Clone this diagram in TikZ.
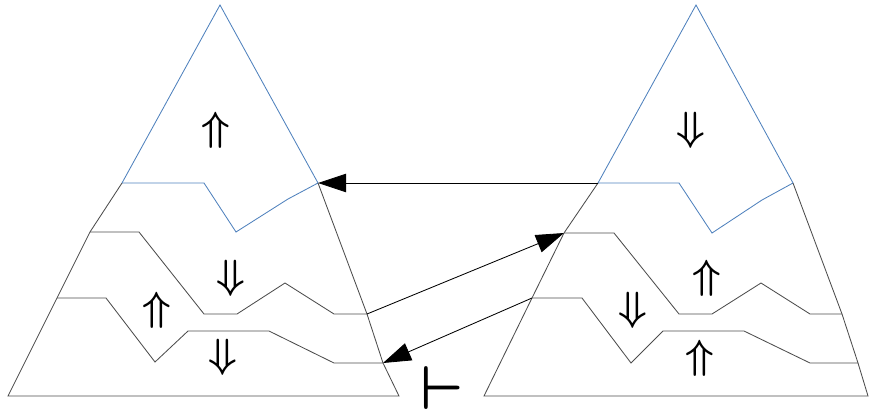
\documentclass[tikz,border=0pt]{standalone}
\usepackage{tikz}
\usetikzlibrary{arrows.meta, positioning, calc}
\usepackage{amsmath, amssymb, graphicx}

\definecolor{topblue}{RGB}{79,129,189}
\newcommand{\upsym}{\scalebox{2.9}{$\boldsymbol{\Uparrow}$}}
\newcommand{\downsym}{\scalebox{2.9}{$\boldsymbol{\Downarrow}$}}

\begin{document}
\begin{tikzpicture}[
    x=0.025cm, y=-0.025cm,
    layer/.style={draw=black!70, line width=0.6pt},
    top/.style={draw=topblue, line width=0.6pt},
    sym/.style={inner sep=0pt},
    link/.style={-{Triangle[length=7mm, width=4.6mm]}, line width=0.6pt}
]
    \useasboundingbox (0,0) rectangle (869,409);

    % Left pyramid (manual coordinates)
    \coordinate (LA) at (220,5);
    \coordinate (L1l) at (122,183);  \coordinate (L1r) at (318,183);
    \coordinate (L2l) at (90,232);   \coordinate (L2r) at (367,314);
    \coordinate (L3l) at (57,298);   \coordinate (L3r) at (383,363);
    \coordinate (LBl) at (8,396);    \coordinate (LBr) at (399,396);

    \draw[top] (L1l) -- (LA) -- (L1r);
    \draw[top] (L1l) -- (204,183) -- (236,232) -- (288,199) -- (L1r);
    \draw[layer] (L1l) -- (L2l) -- (L3l) -- (LBl) -- (LBr) -- (L3r) -- (L2r) -- (L1r);
    \draw[layer] (L2l) -- (139,232) -- (204,314) -- (237,314) -- (285,283) -- (334,314) -- (L2r);
    \draw[layer] (L3l) -- (106,298) -- (155,362) -- (188,331) -- (269,331) -- (334,363) -- (L3r);

    \node[sym] (Lu1) at (216,130) {\upsym};
    \node[sym] (Ld2) at (231,278) {\downsym};
    \node[sym] (Lu3) at (157,310) {\upsym};
    \node[sym] (Ld4) at (223,357) {\downsym};

    % Right pyramid
    \coordinate (RA) at (696,5);
    \coordinate (R1l) at (598,183);  \coordinate (R1r) at (793,183);
    \coordinate (R2l) at (564,233);  \coordinate (R2r) at (842,314);
    \coordinate (R3l) at (532,298);  \coordinate (R3r) at (858,363);
    \coordinate (RBl) at (484,396);  \coordinate (RBr) at (868,396);

    \draw[top] (R1l) -- (RA) -- (R1r);
    \draw[top] (R1l) -- (679,183) -- (712,233) -- (762,200) -- (R1r);
    \draw[layer] (R1l) -- (R2l) -- (R3l) -- (RBl) -- (RBr) -- (R3r) -- (R2r) -- (R1r);
    \draw[layer] (R2l) -- (614,233) -- (679,314) -- (712,314) -- (761,283) -- (810,314) -- (R2r);
    \draw[layer] (R3l) -- (582,298) -- (631,363) -- (663,331) -- (744,331) -- (810,363) -- (R3r);

    \node[sym] (Rd1) at (691,130) {\downsym};
    \node[sym] (Ru2) at (707,278) {\upsym};
    \node[sym] (Rd3) at (633,310) {\downsym};
    \node[sym] (Ru4) at (700,358) {\upsym};

    % Links between the pyramids
    \draw[link] (R1l) -- (L1r);
    \draw[link] (L2r) -- (R2l);
    \draw[link] (R3l) -- (L3r);

    % Turnstile
    \node[sym] (ts) at (442,388) {\scalebox{4.4}{$\boldsymbol{\vdash}$}};
\end{tikzpicture}
\end{document}
